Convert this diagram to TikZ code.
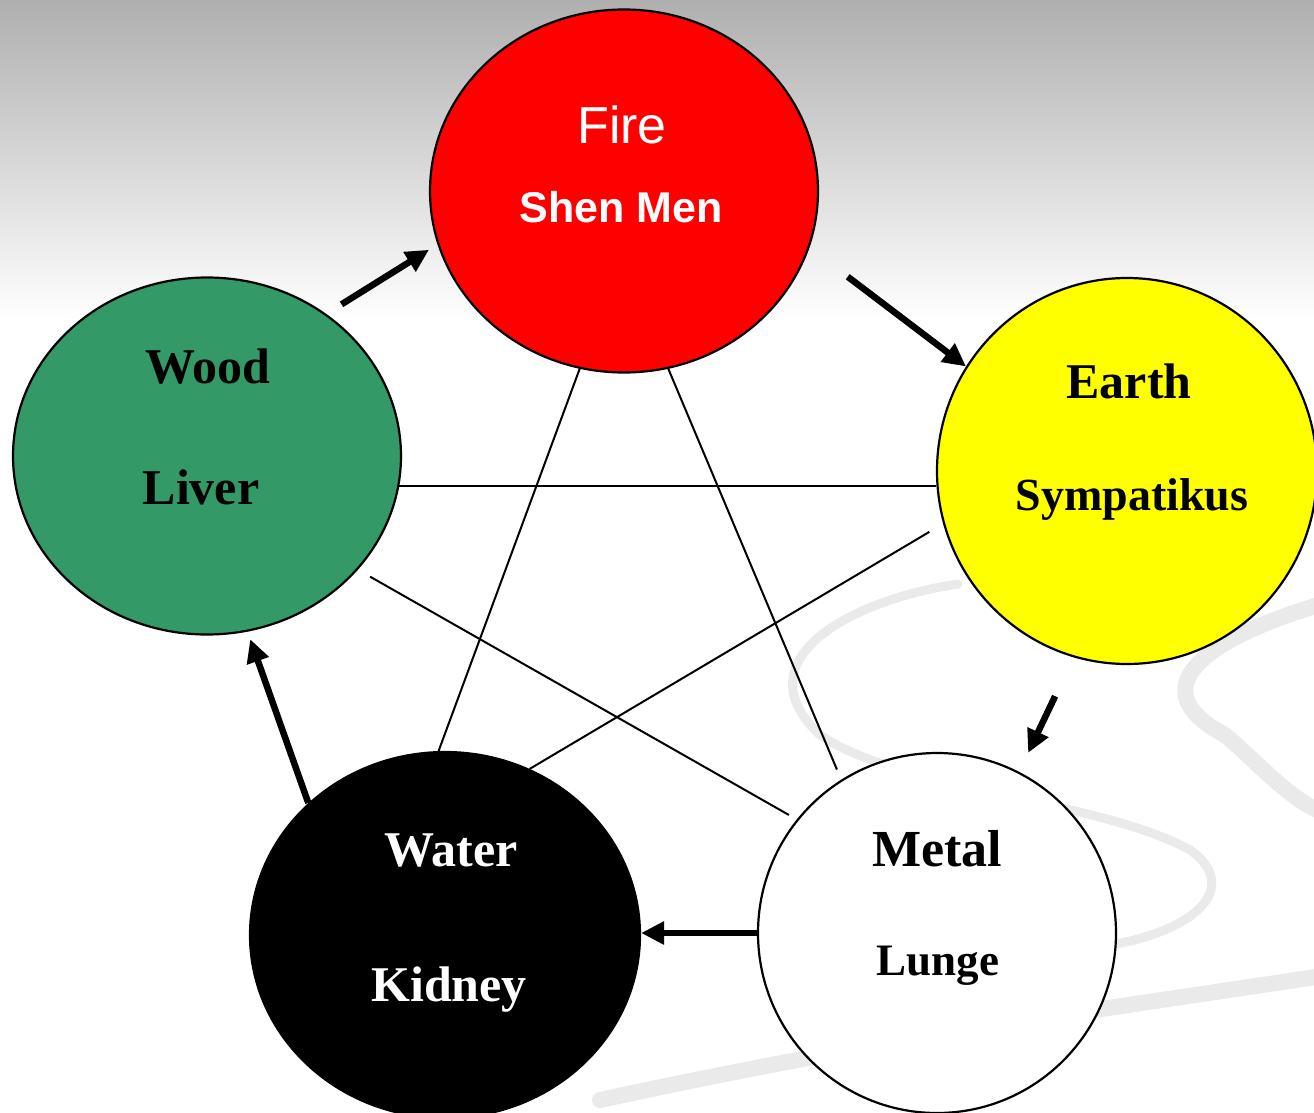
\documentclass[tikz,border=0pt]{standalone}
\usepackage{fontspec}
\setmainfont{Liberation Serif}
\newfontfamily\arialf{Liberation Sans}
\usetikzlibrary{arrows.meta,shapes.geometric,calc}
\definecolor{woodgreen}{RGB}{51,153,102}
\definecolor{firered}{RGB}{255,0,0}
\definecolor{earthyellow}{RGB}{255,255,0}
\definecolor{bgtop}{RGB}{175,175,175}
\definecolor{swirlgray}{RGB}{234,234,234}
\begin{document}
\begin{tikzpicture}[x=1pt,y=-1pt,
  elem/.style={ellipse, draw=black, line width=2.2pt, inner sep=0pt},
  lbl/.style={anchor=base, inner sep=0pt, font=\bfseries\fontsize{50}{55}\selectfont},
  star/.style={line width=2pt},
  cyc/.style={line width=6.5pt, -{Triangle[length=23pt,width=22pt]}},
  swirl/.style={draw=swirlgray, line cap=round}
]
\useasboundingbox (0,0) rectangle (1314,1113);
% background
\fill[white] (0,0) rectangle (1314,1113);
\shade[top color=bgtop, bottom color=white] (0,0) rectangle (1314,320);
% swirl decoration
\draw[swirl, line width=9pt] (958,584) .. controls (850,600) and (740,660) .. (820,735)
  .. controls (900,790) and (1100,800) .. (1190,850)
  .. controls (1240,885) and (1200,930) .. (1110,945);
\draw[swirl, line width=16pt] (1322,604) .. controls (1200,640) and (1140,690) .. (1225,735)
  .. controls (1255,760) and (1290,800) .. (1322,812);
\draw[swirl, line width=16pt] (600,1100) .. controls (900,1035) and (1100,1010) .. (1322,976);
% elements
\node[elem, fill=firered, minimum width=388pt, minimum height=363pt] (fire) at (624,191) {};
\node[elem, fill=woodgreen, minimum width=388pt, minimum height=357pt] (wood) at (207,456) {};
\node[elem, fill=earthyellow, minimum width=380pt, minimum height=386pt] (earth) at (1127,471) {};
\node[elem, fill=black, minimum width=390pt, minimum height=366pt] (water) at (445,935) {};
\node[elem, fill=white, minimum width=358pt, minimum height=360pt] (metal) at (937,933) {};
% star lines
\draw[star] (fire.256) -- (water.92);
\draw[star, shorten >=11pt] (fire.284) -- (metal.122);
\draw[star] (wood.351) -- (wood.351 -| earth.west);
\draw[star, shorten <=14pt, shorten >=9pt] (wood.323) -- (metal.141);
\draw[star, shorten <=16pt] (earth.196) -- (water.63);
% cycle arrows
\draw[cyc, shorten <=18pt, shorten >=10pt] (wood.50) -- (fire.196);
\draw[cyc, shorten <=48pt] (fire.343) -- (earth.147);
\draw[cyc, shorten <=43pt, shorten >=21pt] (earth.254) -- (metal.63);
\draw[cyc] (metal.west) -- (metal.west -| water.east);
\draw[cyc, shorten >=8pt] (water.136) -- (wood.283);
% labels
\node[lbl, font=\arialf\fontsize{52}{60}\selectfont, text=white] (tfire) at (622,143) {Fire};
\node[lbl, font=\arialf\bfseries\fontsize{43}{50}\selectfont, text=white] (tshen) at (621,222) {Shen Men};
\node[lbl] (twood) at (208,383) {Wood};
\node[lbl] (tliver) at (201,504) {Liver};
\node[lbl] (tearth) at (1129,398) {Earth};
\node[lbl, font=\bfseries\fontsize{46}{52}\selectfont] (tsym) at (1132,510) {Sympatikus};
\node[lbl, text=white] (twater) at (451,866) {Water};
\node[lbl, text=white] (tkidney) at (449,1001) {Kidney};
\node[lbl, font=\bfseries\fontsize{52}{58}\selectfont] (tmetal) at (937,866) {Metal};
\node[lbl, font=\bfseries\fontsize{45}{52}\selectfont] (tlunge) at (938,975) {Lunge};
\end{tikzpicture}
\end{document}
